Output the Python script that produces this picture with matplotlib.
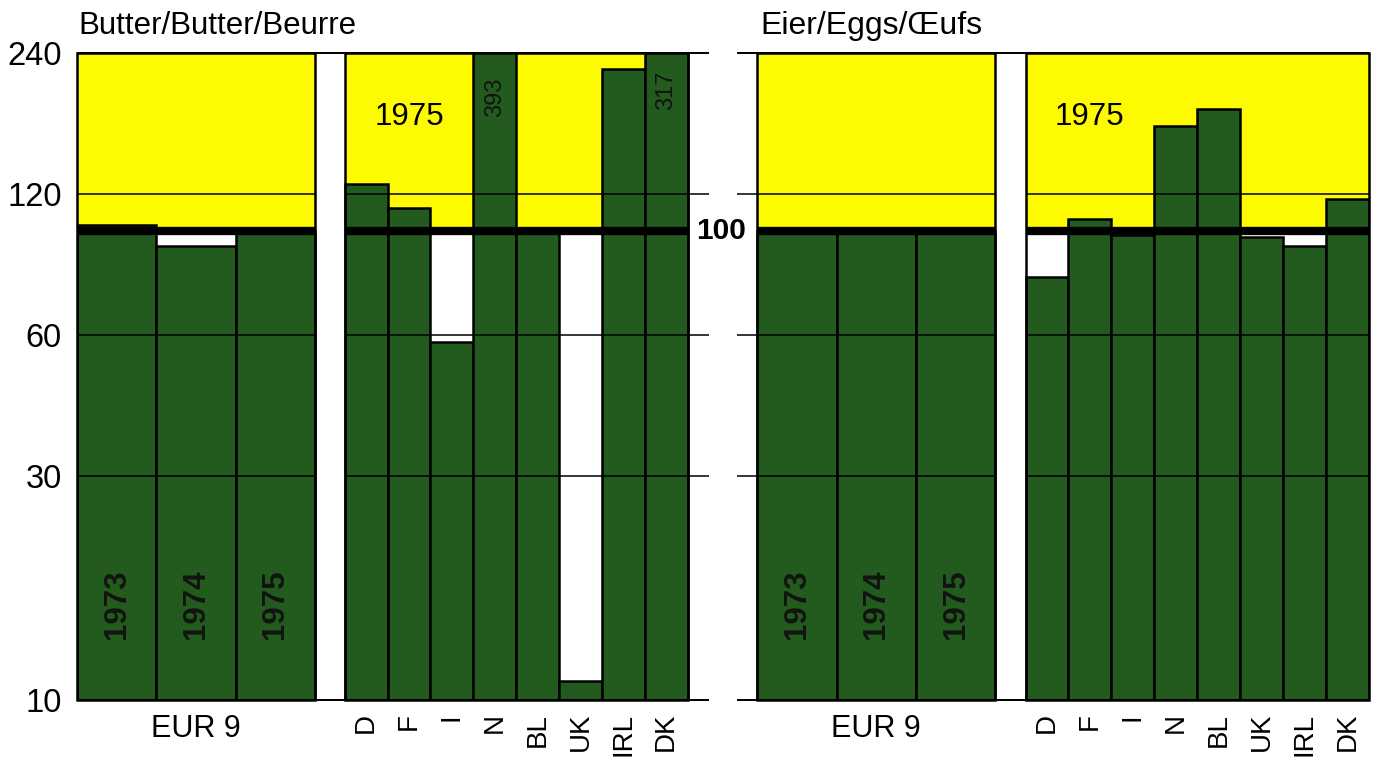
import numpy as np
import matplotlib
matplotlib.use("Agg")
import matplotlib.pyplot as plt
from matplotlib.patches import Rectangle

plt.rcParams['font.family'] = ['Liberation Sans', 'DejaVu Sans']

# data (index; log scale 10..240, 100 = reference)
years = ["1973", "1974", "1975"]
countries = ["D", "F", "I", "N", "BL", "UK", "IRL", "DK"]

butter_eur9 = [103, 93, 100]
butter_1975 = [126, 112, 58, 393, 100, 11, 222, 317]

eggs_eur9 = [100, 100, 100]
eggs_1975 = [80, 106, 98, 168, 182, 97, 93, 117]

yticks = [10, 30, 60, 120, 240]

# layout (x units = width of one country bar)
W_EUR = 1.85
GAP = 0.70
GREEN = "#235a1e"
YELLOW = "#fefa00"

eur_x = np.arange(3) * W_EUR + W_EUR / 2
eur_end = 3 * W_EUR
c_start = eur_end + GAP
c_x = c_start + np.arange(len(countries)) + 0.5
c_end = c_start + len(countries)


def panel(ax, eur_vals, c_vals, xlim):
    ax.set_yscale("log")
    ax.set_ylim(10, 240)
    ax.set_xlim(*xlim)
    ax.patch.set_visible(False)

    # yellow zone above 100
    ax.bar([eur_end / 2, (c_start + c_end) / 2], 140, bottom=100,
           width=[eur_end, c_end - c_start], color=YELLOW, zorder=0.5)

    # green bars
    ax.bar(eur_x, np.array(eur_vals) - 10, bottom=10, width=W_EUR,
           color=GREEN, edgecolor="black", linewidth=1.8, zorder=1)
    ax.bar(c_x, np.array(c_vals) - 10, bottom=10, width=1.0,
           color=GREEN, edgecolor="black", linewidth=1.8, zorder=1)

    # grid lines (broken at the gap)
    ax.hlines([30, 60, 120], xlim[0], eur_end, color="black", lw=1.1, zorder=2)
    ax.hlines([30, 60, 120], c_start, xlim[1], color="black", lw=1.1, zorder=2)
    ax.hlines([10, 240], xlim[0], xlim[1], color="black", lw=1.4, zorder=3,
              clip_on=False)
    for x0, x1 in [(0, eur_end), (c_start, c_end)]:
        ax.hlines(100, x0, x1, color="black", lw=6, zorder=3)
        ax.add_patch(Rectangle((x0, 10), x1 - x0, 230, fill=False,
                               edgecolor="black", lw=1.8, zorder=3,
                               clip_on=False))

    for x, y in zip(eur_x, years):
        ax.text(x, 16, y, rotation=90, ha="center", va="center",
                fontsize=22.5, weight="bold", color="#101510", zorder=4)
    ax.text(c_start + 1.5, 175, "1975", ha="center", va="center",
            fontsize=22.5, zorder=4)

    tr = ax.get_xaxis_transform()
    ax.text(eur_end / 2, -0.022, "EUR 9", ha="center", va="top",
            fontsize=22, transform=tr)
    for x, c in zip(c_x, countries):
        ax.text(x, -0.02, c, rotation=90, ha="center", va="top",
                fontsize=20, transform=tr)

    for s in ax.spines.values():
        s.set_visible(False)
    ax.set_xticks([])
    ax.yaxis.set_minor_locator(plt.NullLocator())
    ax.set_yticks([])


fig = plt.figure(figsize=(13.81, 7.58), dpi=100)
bottom = (758 - 700) / 758
height = (700 - 53) / 758
ax_b = fig.add_axes([77 / 1381, bottom, 632 / 1381, height])
ax_e = fig.add_axes([737 / 1381, bottom, 632 / 1381, height])

panel(ax_b, butter_eur9, butter_1975, (0, c_end + 0.5))
panel(ax_e, eggs_eur9, eggs_1975, (-0.47, c_end))

ax_b.set_yticks(yticks)
ax_b.set_yticklabels([str(t) for t in yticks])
ax_b.yaxis.set_minor_locator(plt.NullLocator())
ax_b.tick_params(axis="y", length=0, pad=11, labelsize=23.5)

# clipped values written in the bars
for name, val, y in [("N", 393, 193), ("DK", 317, 200)]:
    i = countries.index(name)
    ax_b.text(c_x[i], y, str(val), rotation=90, ha="center", va="center",
              fontsize=17, color="#101510", zorder=4)

ax_b.text(c_end + 0.77, 100, "100", ha="center", va="center", fontsize=21.5,
          weight="bold", clip_on=False, zorder=5)

fig.text(78 / 1381, 1 - 26 / 758, "Butter/Butter/Beurre", fontsize=22.5,
         va="center")
fig.text(760 / 1381, 1 - 26 / 758, "Eier/Eggs/\u0152ufs", fontsize=23,
         va="center")

fig.savefig("out.png", dpi=100)
